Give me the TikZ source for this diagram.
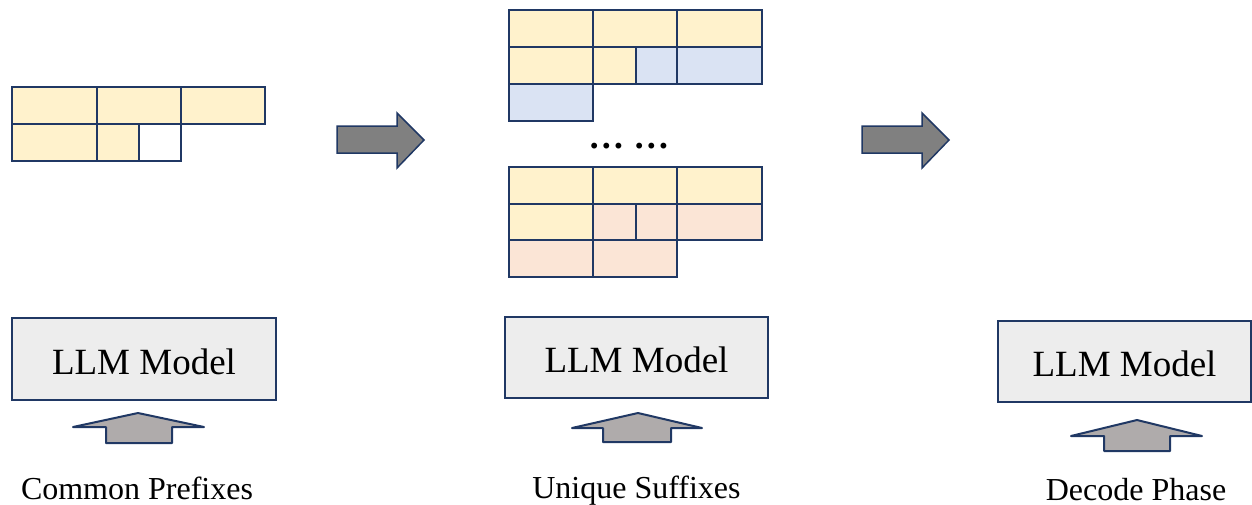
\documentclass[tikz,border=0pt]{standalone}
\usepackage{fontspec}
\setmainfont{Liberation Serif}
\definecolor{navy}{HTML}{203864}
\definecolor{yel}{HTML}{FFF2CC}
\definecolor{blu}{HTML}{DAE3F3}
\definecolor{pnk}{HTML}{FBE5D6}
\definecolor{boxgray}{HTML}{EDEDED}
\definecolor{bigarrow}{HTML}{808080}
\definecolor{uparrow}{HTML}{AFABAB}
\tikzset{
  cell/.style={draw=navy, line width=1.5pt},
  modelbox/.style={draw=navy, line width=2pt, fill=boxgray, inner sep=0pt,
    text height=30pt, text depth=0pt, font=\fontsize{37}{40}\selectfont},
  bigarr/.style={draw=navy, line width=1.5pt, fill=bigarrow, line join=miter},
  uparr/.style={draw=navy, line width=2pt, fill=uparrow, line join=round},
  caption/.style={anchor=base, inner sep=0pt, font=\fontsize{32}{36}\selectfont},
}
\begin{document}
\begin{tikzpicture}[x=1pt, y=-1pt]
\useasboundingbox (0,0) rectangle (1252,504);

% ---- left grid (common prefixes)
\draw[cell, fill=yel] (12,87) rectangle (97,124);
\draw[cell, fill=yel] (97,87) rectangle (181,124);
\draw[cell, fill=yel] (181,87) rectangle (265,124);
\draw[cell, fill=yel] (12,124) rectangle (97,161);
\draw[cell, fill=yel] (97,124) rectangle (139,161);
\draw[cell, fill=white] (139,124) rectangle (181,161);

% ---- middle top grid
\draw[cell, fill=yel] (509,10) rectangle (593,47);
\draw[cell, fill=yel] (593,10) rectangle (677,47);
\draw[cell, fill=yel] (677,10) rectangle (762,47);
\draw[cell, fill=yel] (509,47) rectangle (593,84);
\draw[cell, fill=yel] (593,47) rectangle (636,84);
\draw[cell, fill=blu] (636,47) rectangle (677,84);
\draw[cell, fill=blu] (677,47) rectangle (762,84);
\draw[cell, fill=blu] (509,84) rectangle (593,121);

% ---- dots
\node[anchor=base, inner sep=0pt, font=\fontsize{36}{40}\selectfont\bfseries] (dots) at (628.8,148) {… …};

% ---- middle bottom grid
\draw[cell, fill=yel] (509,167) rectangle (593,204);
\draw[cell, fill=yel] (593,167) rectangle (677,204);
\draw[cell, fill=yel] (677,167) rectangle (762,204);
\draw[cell, fill=yel] (509,204) rectangle (593,240);
\draw[cell, fill=pnk] (593,204) rectangle (636,240);
\draw[cell, fill=pnk] (636,204) rectangle (677,240);
\draw[cell, fill=pnk] (677,204) rectangle (762,240);
\draw[cell, fill=pnk] (509,240) rectangle (593,277);
\draw[cell, fill=pnk] (593,240) rectangle (677,277);

% ---- big right arrows
\draw[bigarr] (337,126) -- (397,126) -- (397,113) -- (424,140) -- (397,168) -- (397,153) -- (337,153) -- cycle;
\draw[bigarr] (862,126) -- (922,126) -- (922,113) -- (949,140) -- (922,168) -- (922,153) -- (862,153) -- cycle;

% ---- model boxes
\node[modelbox, minimum width=264pt, minimum height=82pt] (m1) at (144,359) {LLM Model};
\node[modelbox, minimum width=263pt, minimum height=81pt] (m2) at (636.5,357.5) {LLM Model};
\node[modelbox, minimum width=253pt, minimum height=81pt] (m3) at (1124.5,361.5) {LLM Model};

% ---- up arrows
\draw[uparr] (138,413) -- (204,427) -- (172,427) -- (172,443) -- (106,443) -- (106,427) -- (73,427) -- cycle;
\draw[uparr] (638,413) -- (702,428) -- (671,428) -- (671,442) -- (603,442) -- (603,428) -- (572,428) -- cycle;
\draw[uparr] (1137,420) -- (1202,436) -- (1170,436) -- (1170,451) -- (1104,451) -- (1104,436) -- (1071,436) -- cycle;

% ---- captions
\node[caption] (c1) at (137,499) {Common Prefixes};
\node[caption] (c2) at (636.5,498) {Unique Suffixes};
\node[caption] (c3) at (1136,500) {Decode Phase};
\end{tikzpicture}
\end{document}
